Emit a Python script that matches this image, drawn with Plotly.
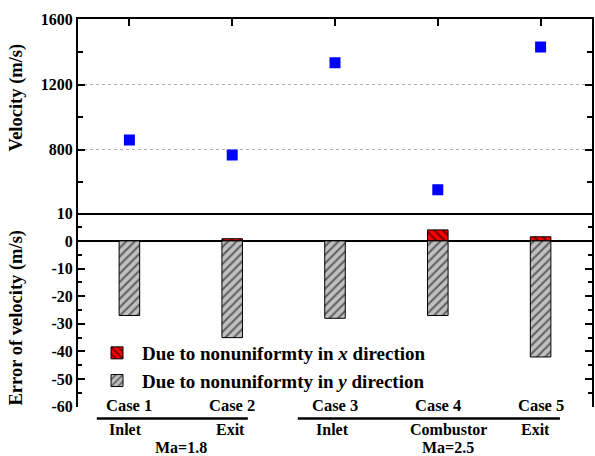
import plotly.graph_objects as go
from plotly.subplots import make_subplots

# ---- data ----
cases = [0, 1, 2, 3, 4]
case_labels = ["Case 1", "Case 2", "Case 3", "Case 4", "Case 5"]
location_labels = ["Inlet", "Exit", "Inlet", "Combustor", "Exit"]
velocity = [860, 768, 1334, 555, 1430]
err_x = [0, 0.8, 0, 4.0, 1.5]
err_y = [-27, -35, -28, -27, -42]
err_tickvals = [10, 0, -10, -20, -30, -40, -50, -60]
err_ticktext = ["10", "0", "-10", "-20", "-30", "-40", "-50", "-60"]
err_minor = [5, -5, -15, -25, -35, -45, -55]

FONT = "Liberation Serif, Times New Roman, serif"
W, H = 595, 456
L, R = 78, 3

def py(px):
    return 1 - px / H

def pxx(px):
    return (px - L) / (W - L - R)

fig = make_subplots(rows=2, cols=1, shared_xaxes=False, vertical_spacing=0)

fig.add_trace(go.Scatter(x=cases, y=velocity, mode="markers",
                         marker=dict(symbol="square", size=11, color="#0000ff"),
                         showlegend=False), row=1, col=1)

fig.add_trace(go.Bar(x=cases, y=err_x, width=0.2,
                     name="Due to nonuniformty in <i>x</i> direction",
                     marker=dict(color="#ff0000", line=dict(color="black", width=1),
                                 pattern=dict(shape="\\", fgcolor="black", bgcolor="#ff0000",
                                              size=6, solidity=0.4))),
              row=2, col=1)
fig.add_trace(go.Bar(x=cases, y=err_y, width=0.2,
                     name="Due to nonuniformty in <i>y</i> direction",
                     marker=dict(color="#c0c0c0", line=dict(color="black", width=1),
                                 pattern=dict(shape="/", fgcolor="black", bgcolor="#c0c0c0",
                                              size=6, solidity=0.35))),
              row=2, col=1)

top_dom = [py(213.3), py(19.3)]
bot_dom = [py(406.7), py(213.3)]

fig.update_layout(
    width=W, height=H,
    margin=dict(l=L, r=R, t=0, b=0, autoexpand=False),
    paper_bgcolor="white", plot_bgcolor="white",
    barmode="relative",
    font=dict(family=FONT, size=16, color="black", weight="bold"),
    legend=dict(x=pxx(92), y=py(334), xanchor="left", yanchor="top",
                font=dict(family=FONT, size=19, color="black", weight="bold"),
                bgcolor="rgba(0,0,0,0)", tracegroupgap=0, itemwidth=40,
                traceorder="normal"),
    xaxis=dict(domain=[0, 1], range=[-0.5, 4.5], side="top", showline=True, linecolor="black",
               linewidth=2, mirror=True, ticks="inside", ticklen=7, tickwidth=1.5,
               tickcolor="black", tickvals=cases, showticklabels=False, showgrid=False,
               zeroline=False, anchor="y", automargin=False),
    yaxis=dict(domain=top_dom, range=[410, 1600], tick0=0, dtick=400, showline=True,
               linecolor="black", linewidth=2, mirror="ticks", ticks="inside", ticklen=7,
               tickwidth=1.5, tickcolor="black", showgrid=True, gridcolor="#b0b0b0",
               griddash="dot", gridwidth=1, zeroline=False, automargin=False,
               minor=dict(dtick=200, tick0=0, ticks="inside", ticklen=5, tickcolor="black",
                          showgrid=False),
               tickfont=dict(size=16), anchor="x"),
    xaxis2=dict(domain=[0, 1], range=[-0.5, 4.5], showline=False, showticklabels=False,
                ticks="", showgrid=False, zeroline=False, anchor="y2", automargin=False),
    yaxis2=dict(domain=bot_dom, range=[-60, 10], tickmode="array", tickvals=err_tickvals,
                ticktext=err_ticktext, showline=True, linecolor="black", linewidth=2,
                mirror="ticks", ticks="inside", ticklen=7, tickwidth=1.5, tickcolor="black",
                showgrid=False, zeroline=True, zerolinecolor="black", zerolinewidth=1.5,
                automargin=False,
                minor=dict(tickmode="array", tickvals=err_minor, ticks="inside", ticklen=4,
                           tickcolor="black"),
                tickfont=dict(size=16), anchor="x2"),
)

# axis titles
fig.add_annotation(x=pxx(15.5), y=py(98), xref="paper", yref="paper", text="Velocity (m/s)",
                   textangle=-90, showarrow=False, font=dict(size=18.5),
                   xanchor="center", yanchor="middle")
fig.add_annotation(x=pxx(15.5), y=py(318), xref="paper", yref="paper",
                   text="Error of velocity (m/s)", textangle=-90, showarrow=False,
                   font=dict(size=18.5), xanchor="center", yanchor="middle")

# category labels below the chart
for i in range(5):
    fig.add_annotation(x=cases[i], y=py(405), xref="x2", yref="paper", text=case_labels[i],
                       showarrow=False, font=dict(size=16.5), yanchor="middle")
loc_x = [-0.04, 0.98, 1.98, 3.1, 3.95]
for i in range(5):
    fig.add_annotation(x=loc_x[i], y=py(429.5), xref="x2", yref="paper",
                       text=location_labels[i], showarrow=False, font=dict(size=16),
                       yanchor="middle", borderpad=0)
fig.add_annotation(x=0.5, y=py(447.5), xref="x2", yref="paper", text="Ma=1.8",
                   showarrow=False, font=dict(size=16), yanchor="middle", borderpad=0)
fig.add_annotation(x=3.1, y=py(447.5), xref="x2", yref="paper", text="Ma=2.5",
                   showarrow=False, font=dict(size=16), yanchor="middle", borderpad=0)

fig.add_shape(type="line", xref="x2", yref="paper", x0=-0.317, x1=1.152,
              y0=py(418.5), y1=py(418.5), line=dict(color="black", width=2.5))
fig.add_shape(type="line", xref="x2", yref="paper", x0=1.638, x1=4.188,
              y0=py(418.5), y1=py(418.5), line=dict(color="black", width=2.5))

fig.write_html("out.html")
